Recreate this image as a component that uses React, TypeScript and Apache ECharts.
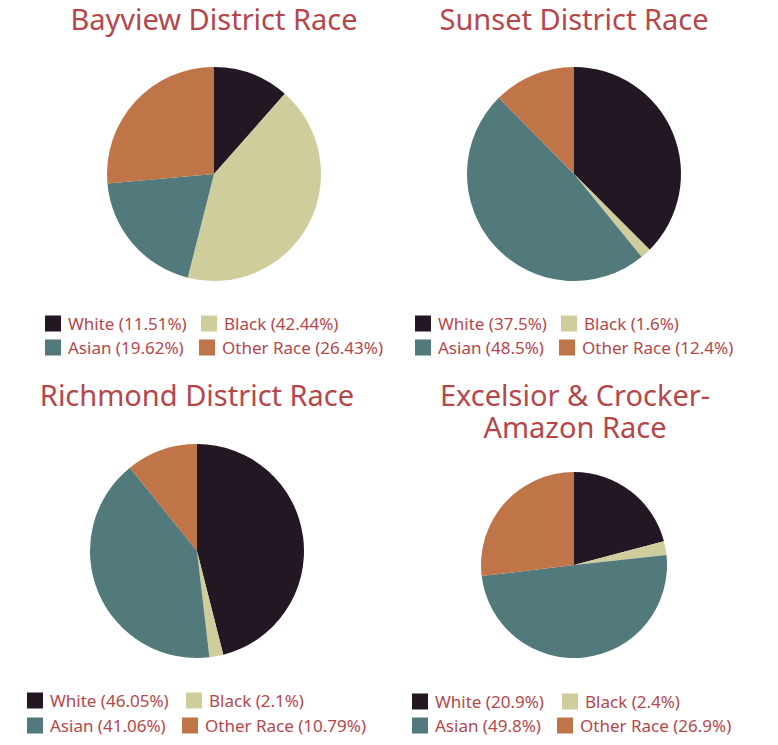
import React, { useEffect, useRef } from "react";
import * as echarts from "echarts";

const categories = ["White", "Black", "Asian", "Other Race"];
const colors = ["#231723", "#cfcd9b", "#52797b", "#c07549"];

const bayview = [11.51, 42.44, 19.62, 26.43];
const sunset = [37.5, 1.6, 48.5, 12.4];
const richmond = [46.05, 2.1, 41.06, 10.79];
const excelsior = [20.9, 2.4, 49.8, 26.9];

const titleBayview = ["Bayview District Race"];
const titleSunset = ["Sunset District Race"];
const titleRichmond = ["Richmond District Race"];
const titleExcelsior = ["Excelsior & Crocker-", "Amazon Race"];

const TITLE_COLOR = "#b5474b";
const FONT = "'Noto Sans', sans-serif";

// layout (positions only)
const panels = [
  { values: bayview, title: titleBayview, center: [214, 174], r: 107, titleX: 214, titleY: 18,
    iconX: [45, 201, 45, 199], rowY: [315, 339] },
  { values: sunset, title: titleSunset, center: [574, 174], r: 107, titleX: 574, titleY: 18,
    iconX: [415, 561, 415, 559], rowY: [315, 339] },
  { values: richmond, title: titleRichmond, center: [197, 551], r: 107, titleX: 197, titleY: 394,
    iconX: [27, 186, 27, 182], rowY: [692, 717] },
  { values: excelsior, title: titleExcelsior, center: [574, 565], r: 93, titleX: 575, titleY: 394,
    iconX: [412, 562, 412, 557], rowY: [693, 717] },
];

function labelOf(cat: string, v: number) {
  return `${cat} (${v}%)`;
}

export default function App() {
  const ref = useRef<HTMLDivElement>(null);
  useEffect(() => {
    if (!ref.current) return;
    const chart = echarts.init(ref.current, undefined, { renderer: "svg" });

    const series: any[] = [];
    const legends: any[] = [];
    const graphics: any[] = [];

    panels.forEach((p) => {
      series.push({
        type: "pie",
        name: p.title.join(" "),
        center: p.center,
        radius: [0, p.r],
        startAngle: 90,
        clockwise: true,
        label: { show: false },
        labelLine: { show: false },
        silent: true,
        itemStyle: { borderWidth: 0 },
        data: categories.map((c, i) => ({
          name: labelOf(c, p.values[i]),
          value: p.values[i],
          itemStyle: { color: colors[i] },
        })),
      });
      categories.forEach((c, i) => {
        legends.push({
          left: p.iconX[i],
          top: p.rowY[Math.floor(i / 2)],
          padding: 0,
          orient: "horizontal",
          icon: "rect",
          itemWidth: 16,
          itemHeight: 16,
          selectedMode: false,
          data: [labelOf(c, p.values[i])],
          textStyle: {
            color: TITLE_COLOR,
            fontSize: 17,
            fontFamily: FONT,
            padding: [0, 0, 0, 2],
          },
        });
      });
      const lines = p.title.length;
      graphics.push({
        type: "text",
        x: p.titleX,
        y: p.titleY + (lines - 1) * 16,
        style: {
          text: p.title.join("\n"),
          fill: TITLE_COLOR,
          fontSize: 29,
          lineHeight: 32,
          fontFamily: FONT,
          align: "center",
          verticalAlign: "middle",
        },
      });
    });

    chart.setOption({
      animation: false,
      backgroundColor: "#ffffff",
      legend: legends,
      series,
      graphic: graphics,
    });
    return () => chart.dispose();
  }, []);
  return (
    <div
      ref={ref}
      style={{ position: "fixed", left: 0, top: 0, width: 778, height: 745 }}
    />
  );
}
